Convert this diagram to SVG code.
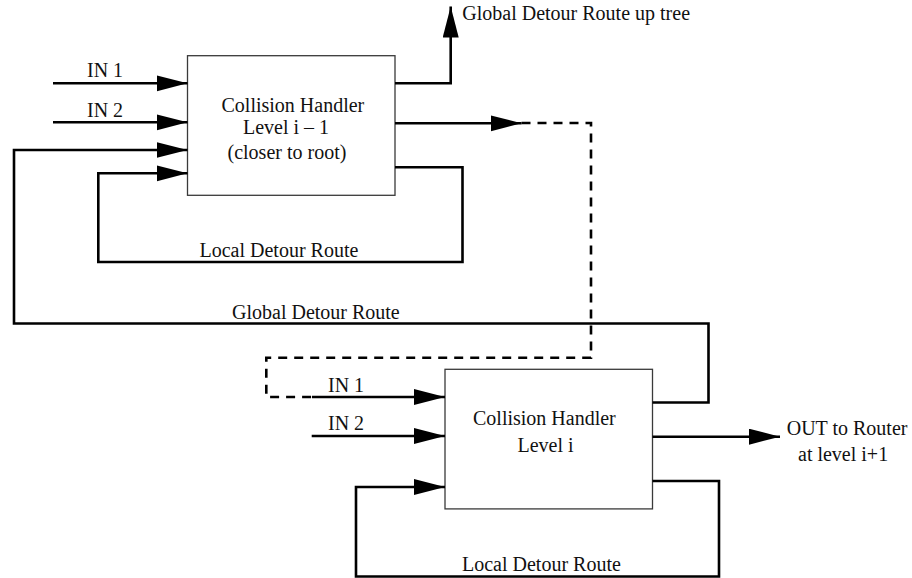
<svg xmlns="http://www.w3.org/2000/svg" width="912" height="578" viewBox="0 0 912 578">
  <style>
    .box { fill: #ffffff; stroke: #3a3a3a; stroke-width: 1.3; }
    .wire { fill: none; stroke: #000000; stroke-width: 2.6; stroke-linejoin: miter; }
    .dash { fill: none; stroke: #000000; stroke-width: 2.6; stroke-dasharray: 9 7; }
    .arrow { marker-end: url(#head); }
    text { font-family: "Liberation Serif", "Times New Roman", serif; font-size: 20px; fill: #111111; }
  </style>
  <defs>
    <marker id="head" markerUnits="userSpaceOnUse" markerWidth="32" markerHeight="17" refX="31" refY="8" orient="auto">
      <path d="M0,0 L31,8 L0,16 Z" fill="#000000"/>
    </marker>
  </defs>

  <rect width="912" height="578" fill="#ffffff"/>

  <!-- upper handler, level i - 1 -->
  <g id="handler-upper">
    <rect class="box" x="187.5" y="55.7" width="207.5" height="139.6"/>
    <text x="221.5" y="111.5">Collision Handler</text>
    <text x="243" y="134">Level i – 1</text>
    <text x="227.5" y="158.5">(closer to root)</text>
  </g>

  <!-- lower handler, level i -->
  <g id="handler-lower">
    <rect class="box" x="445" y="369.3" width="207.5" height="139.6"/>
    <text x="473" y="425">Collision Handler</text>
    <text x="517.5" y="452">Level i</text>
  </g>

  <g id="connectors">
    <!-- upper inputs -->
    <path class="wire arrow" d="M53,83.3 H187.5"/>
    <path class="wire arrow" d="M53,122.3 H187.5"/>
    <!-- global detour route from lower handler back to upper -->
    <path class="wire arrow" d="M652.5,402.5 H708.5 V323.5 H14 V150 H187.5"/>
    <!-- upper local detour loop -->
    <path class="wire arrow" d="M395,167.3 H462.5 V262 H98.3 V173.3 H187.5"/>
    <!-- global route up the tree -->
    <path class="wire arrow" d="M395,83.3 H450.7 V6.5"/>
    <!-- upper output down to lower IN 1 -->
    <path class="wire arrow" d="M395,123.3 H521.5"/>
    <path class="dash" d="M521.5,123 H591 V357.7 H266.3 V397 H312"/>
    <path class="wire arrow" d="M312,397 H445"/>
    <!-- lower IN 2 -->
    <path class="wire arrow" d="M311.7,436 H445"/>
    <!-- lower local detour loop -->
    <path class="wire arrow" d="M652.5,481 H719 V576.5 H356 V487 H445"/>
    <!-- lower output -->
    <path class="wire arrow" d="M652.5,436.7 H780"/>
  </g>

  <g id="labels">
    <text x="87" y="77.3">IN 1</text>
    <text x="87" y="117.3">IN 2</text>
    <text x="199.5" y="257">Local Detour Route</text>
    <text x="462.3" y="20">Global Detour Route up tree</text>
    <text x="232" y="319">Global Detour Route</text>
    <text x="328" y="391.7">IN 1</text>
    <text x="328" y="430">IN 2</text>
    <text x="462" y="570.7">Local Detour Route</text>
    <text x="786.7" y="435">OUT to Router</text>
    <text x="798" y="461">at level i+1</text>
  </g>
</svg>
